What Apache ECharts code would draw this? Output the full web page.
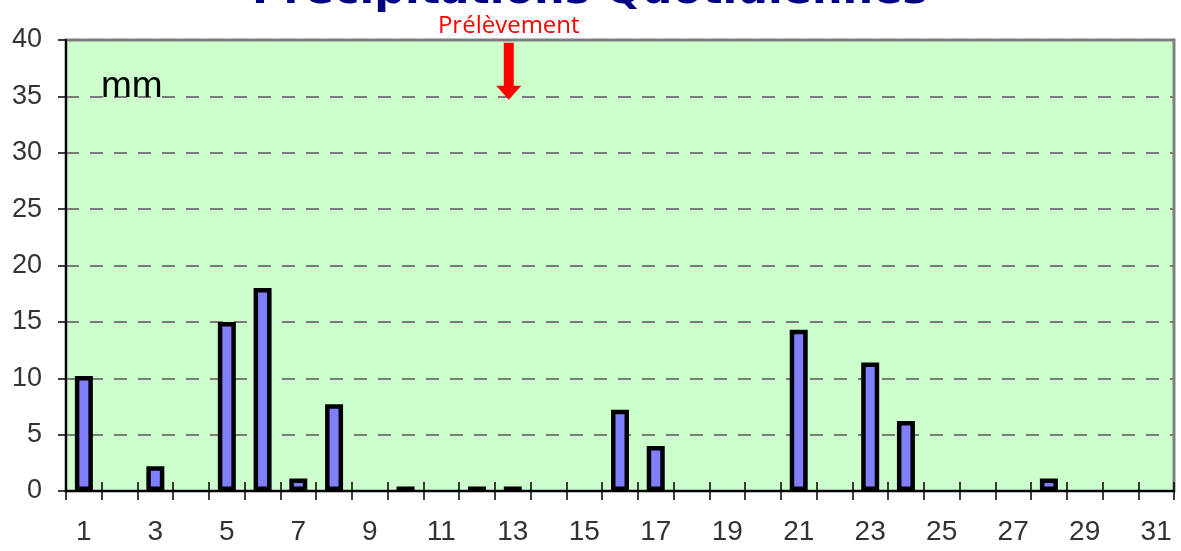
<!DOCTYPE html>
<html>
<head>
<meta charset="utf-8">
<script src="https://cdn.jsdelivr.net/npm/echarts@6/dist/echarts.min.js"></script>
<style>
  html, body { margin: 0; padding: 0; background: #ffffff; }
  #chart { width: 1181px; height: 551px; }
</style>
</head>
<body>
<div id="chart"></div>
<script>
// Daily rainfall for the month (mm)
const days = [];
for (let d = 1; d <= 31; d++) days.push(String(d));
const rainfall = [10.2, 0, 2.2, 0, 15.0, 18.0, 1.1, 7.7, 0, 0.4,
                  0, 0.4, 0.4, 0, 0, 7.2, 4.0, 0, 0, 0,
                  14.3, 0, 11.4, 6.2, 0, 0, 0, 1.1, 0, 0, 0];
const yTicks = { min: 0, max: 40, interval: 5 };
const titleText = 'Précipitations Quotidiennes';
const unitText = 'mm';
const samplingLabel = 'Prélèvement';
const samplingDay = '13';
const samplingLevel = 34.7;

const chart = echarts.init(document.getElementById('chart'), null, { renderer: 'canvas' });

const labelFont = 'Liberation Sans, Arial, sans-serif';

// Dry days get no outline so nothing is drawn on the axis for them
const barData = rainfall.map(v => ({
  value: v,
  itemStyle: v === 0 ? { borderWidth: 0, opacity: 0 } : undefined
}));

chart.setOption({
  animation: false,
  backgroundColor: '#ffffff',
  grid: {
    left: 66, right: 7, top: 40, bottom: 60,
    show: true,
    backgroundColor: '#CCFFCC',
    borderColor: '#808080',
    borderWidth: 3
  },
  graphic: [
    {
      type: 'text',
      x: 590, y: 13,
      style: {
        text: titleText,
        textAlign: 'center',
        textVerticalAlign: 'bottom',
        fontFamily: 'DejaVu Sans, sans-serif',
        fontWeight: 'bold',
        fontSize: 43,
        fill: '#000080'
      }
    },
    {
      type: 'text',
      x: 101, y: 105,
      z: 10,
      style: {
        text: unitText,
        textAlign: 'left',
        textVerticalAlign: 'bottom',
        fontFamily: labelFont,
        fontSize: 37,
        fill: '#000000'
      }
    }
  ],
  xAxis: [
    {
      type: 'category',
      data: days,
      position: 'bottom',
      boundaryGap: true,
      axisLine: { show: true, lineStyle: { color: '#000000', width: 2 } },
      axisTick: { show: true, interval: 0, length: 9, lineStyle: { color: '#000000', width: 1.5 } },
      axisLabel: {
        interval: 1,
        margin: 27,
        color: '#333333',
        fontFamily: labelFont,
        fontSize: 28
      },
      splitLine: { show: false }
    },
    {
      type: 'category',
      data: days,
      position: 'bottom',
      boundaryGap: true,
      axisLine: { show: false },
      axisTick: { show: true, inside: true, interval: 0, length: 9, lineStyle: { color: '#000000', width: 1.5 } },
      axisLabel: { show: false },
      splitLine: { show: false }
    }
  ],
  yAxis: {
    type: 'value',
    min: yTicks.min,
    max: yTicks.max,
    interval: yTicks.interval,
    axisLine: { show: true, lineStyle: { color: '#000000', width: 2 } },
    axisTick: { show: true, length: 8, lineStyle: { color: '#000000', width: 1.5 } },
    axisLabel: {
      margin: 24,
      color: '#333333',
      fontFamily: labelFont,
      fontSize: 27
    },
    splitLine: {
      show: true,
      lineStyle: { color: '#7a7a7a', width: 1.8, type: [13, 11] }
    }
  },
  series: [
    {
      type: 'bar',
      xAxisIndex: 0,
      data: barData,
      barWidth: 18,
      itemStyle: {
        color: '#8080FF',
        borderColor: '#000000',
        borderWidth: 4.5
      },
      markPoint: {
        silent: true,
        data: [
          {
            coord: [samplingDay, samplingLevel],
            symbol: 'path://M7.5,0 L17.5,0 L17.5,43 L25,43 L12.5,57 L0,43 L7.5,43 Z',
            symbolSize: [25, 57],
            symbolKeepAspect: false,
            symbolOffset: [-4, '-50%'],
            itemStyle: { color: '#FF0000' },
            label: {
              show: true,
              position: 'top',
              distance: 5,
              formatter: samplingLabel,
              color: '#FF0000',
              fontFamily: 'Open Sans, sans-serif',
              fontSize: 24
            }
          }
        ]
      }
    }
  ]
});
</script>
</body>
</html>
